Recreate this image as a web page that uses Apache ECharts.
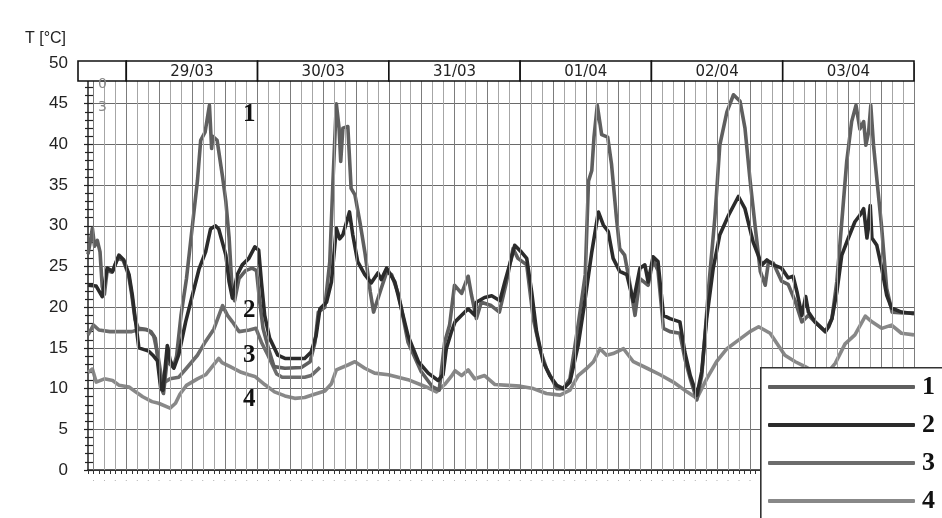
<!DOCTYPE html>
<html>
<head>
<meta http-equiv="content-type" content="text/html; charset=utf-8" />
<title>T [°C]</title>
<style>
  html, body { margin: 0; padding: 0; background: #fff; }
  #main { width: 942px; height: 518px; }
</style>
<script src="https://cdn.jsdelivr.net/npm/echarts@6.0.0/dist/echarts.min.js"></script>
</head>
<body>
<div id="main"></div>
<script>
// hours counted from 29/03 00:00
var dayStarts = [-7, 0, 24, 48, 72, 96, 120];
var dayEnds = [0, 24, 48, 72, 96, 120, 144];
var dayLabels = ['', '29/03', '30/03', '31/03', '01/04', '02/04', '03/04'];
var yTicks = [0, 5, 10, 15, 20, 25, 30, 35, 40, 45, 50];

// [hour, T]
var series1 = [[-7,26.5],[-6.6,28],[-6.2,29.7],[-5.8,27.5],[-5.3,28.2],[-4.8,26.8],[-4.4,22.5],[-4,21.6],[-3.5,24.5],[-2.6,24.3],[-1.6,26],[-0.6,25.8],[0.4,24],[1,21.5],[1.6,18.5],[2.2,17.4],[3.5,17.3],[4.5,17],[5.3,16.2],[5.9,13],[6.4,10],[6.8,9.4],[7.3,12.5],[7.6,15],[8,13],[8.6,12.6],[9.2,14],[10,19],[11,23.5],[12,29.5],[13,35.5],[13.6,40.5],[14.4,41.5],[15.2,44.8],[15.6,39.5],[15.8,41],[16.6,40.5],[17.6,36],[18.2,33],[18.8,28.5],[19.4,21.5],[19.8,20.8],[20.6,23.5],[21.8,24.5],[23,24.8],[23.8,24.5],[24.4,20.6],[25,17.4],[26,14.9],[27,12.7],[29,12.5],[32,12.6],[33.6,13.3],[34.5,15.7],[35.1,19.4],[36.3,20],[37.2,25.6],[37.8,35.8],[38.4,45],[38.9,42],[39.2,37.9],[39.6,42],[40.5,42.2],[41.1,34.6],[41.8,33.8],[42.7,30.5],[43.6,26.8],[44.6,21.9],[45.2,19.4],[46.6,22.3],[47.6,24.3],[48.5,24],[49.8,21.5],[51.5,15.7],[53.9,12.1],[56,10.2],[57.2,9.8],[58.2,15.7],[59.1,17.8],[60,22.7],[61.3,21.7],[62.5,23.8],[63.1,21.5],[64,18.6],[64.9,20.6],[66.7,20.2],[68.2,19.4],[69.5,23.1],[70.7,27.2],[71.6,26],[73.2,25.2],[74.4,18.6],[75.6,14.9],[76.8,12.5],[78.7,10],[79.9,10],[81.1,11.2],[82.6,17.8],[83.9,24],[84.5,35.5],[85.1,36.8],[85.5,40.9],[86.1,44.8],[86.9,41.2],[88,40.9],[88.7,37.6],[89.6,31],[90.2,27.2],[91.1,26.4],[92.1,22.7],[93,19],[93.9,23.5],[95.4,22.7],[96.3,25.8],[97.2,24.5],[98.2,17.4],[99.4,17],[101.2,16.8],[102.1,13.7],[103.1,11.2],[104.3,8.6],[105.2,11.6],[106.5,22.7],[107.6,31],[108.5,39.9],[109.8,44],[111,46.1],[112.2,45.3],[113.1,42],[114,35.8],[115,29.7],[115.9,24.4],[116.8,22.7],[117.4,25.6],[118.3,25.4],[119.8,23.2],[121,22.8],[122.3,20.7],[123.5,18.2],[124.7,19],[125.9,18.2],[127.8,17],[129,18.6],[129.9,23.2],[130.8,30.5],[131.7,37.9],[132.6,42.8],[133.4,44.8],[134.1,41.9],[134.8,42.8],[135.2,39.9],[135.7,41.5],[136.1,44.8],[136.6,39.9],[137.2,35.8],[138.1,29.7],[139,22.3],[140,19.4],[142,19.3],[144,19.3]];

var series2 = [[-7,22.7],[-5.5,22.6],[-4.4,21.3],[-3.5,24.8],[-2.5,24.4],[-1.35,26.4],[-0.45,25.8],[0.5,24],[1.1,21.5],[1.7,18.2],[2.3,15],[4.1,14.6],[5,14],[5.7,13.4],[6.3,10],[6.7,9.8],[7.5,15.3],[8,13.5],[8.7,12.5],[9.6,14.2],[10.85,18.2],[12.1,21.5],[13.3,24.7],[14.5,26.8],[15.4,29.6],[16.3,30],[16.9,29.6],[18.2,26.4],[18.8,23.1],[19.4,21.1],[20.3,24],[21.2,25.2],[22.4,26],[23.5,27.4],[24.2,27],[24.7,23.1],[25.3,19],[26.2,16.2],[27.7,14.1],[29,13.7],[32.6,13.7],[33.8,14.5],[34.7,16.5],[35.4,19.8],[36.6,20.6],[37.5,23.1],[38.4,29.7],[39,28.4],[39.6,28.9],[40.8,31.7],[41.4,28.9],[42.3,25.6],[43.6,24],[44.8,23],[46,24.2],[46.6,23.4],[47.6,24.8],[49.1,23.1],[50.3,19.8],[51.5,16.5],[53.4,13.3],[55.2,11.9],[57,11],[57.9,11.7],[58.5,14.9],[59.4,16.9],[60.1,18.2],[61.3,19],[62.5,19.8],[63.7,19],[64,20.6],[65.5,21.2],[66.8,21.4],[68.3,20.8],[69.2,23.1],[70.4,26],[71,27.6],[72.2,26.8],[73.2,26],[74.1,21.9],[75,17],[76.2,13.3],[77.4,11.6],[78.7,10.4],[79.9,10],[81.1,10.8],[82.6,15.3],[83.8,20.6],[85.1,26.8],[86.3,31.7],[87.2,30.1],[88.1,29.3],[89,26],[90.2,24.4],[91.5,24],[92.7,20.7],[93.9,24.8],[94.8,25.2],[95.4,23.1],[96.3,26.2],[97.2,25.6],[98.2,19],[99.4,18.6],[101.2,18.2],[102.1,14.5],[103.1,11.6],[104.3,9.2],[105.2,12.1],[106.1,18.6],[107.3,24.8],[108.5,28.9],[110.1,31.3],[111.9,33.6],[113.1,32.1],[114.6,28],[116.2,25.2],[117.1,25.8],[118.3,25.2],[119.8,24.8],[121,23.6],[121.9,23.8],[122.6,21.9],[123.5,19],[124.2,21.3],[124.7,19.4],[125.9,18.2],[127.8,17],[128.4,17.6],[129,18.6],[129.9,21.9],[130.8,26.4],[132,28.5],[133.2,30.5],[134.1,31.3],[134.8,32.1],[135.4,28.5],[136,32.5],[136.3,28.5],[137.2,27.6],[138.1,24.8],[139,21.5],[139.9,19.9],[141.7,19.4],[144,19.2]];

var series3 = [[-7,16.6],[-6,17.8],[-5,17.2],[-3,17],[-1,17],[1,17],[2.5,17.3],[4,17.2],[5,16.5],[5.8,14],[6.4,11.5],[7,10.8],[8,11.2],[9.6,11.4],[11,12.5],[13,14.1],[14.5,15.8],[16,17.3],[17.6,20.2],[18.5,19],[19.4,18.2],[20.6,17],[22.5,17.2],[23.7,17.4],[24.7,15.7],[25.9,14.1],[27.5,11.8],[28.5,11.4],[32.6,11.4],[33.8,11.6],[35.4,12.6]];

var series4 = [[-7,12],[-6.2,12.4],[-5.5,10.8],[-4,11.2],[-2.5,11],[-1.3,10.4],[0.5,10.2],[1.7,9.6],[3,9],[4.7,8.4],[5.9,8.2],[8,7.6],[9,8.2],[9.8,9.3],[11,10.4],[13,11.2],[14.5,11.7],[16.9,13.7],[17.5,13.2],[19,12.7],[21,12],[22.4,11.7],[23.5,11.5],[25.3,10.5],[27.1,9.6],[29,9.1],[30.8,8.8],[32.6,8.9],[34.4,9.3],[36.3,9.7],[37.5,10.6],[38.4,12.3],[40.5,12.9],[41.8,13.3],[43.6,12.5],[45.4,11.9],[47.9,11.7],[51.5,11.1],[55.2,10.1],[56.7,9.6],[58.2,10.5],[59.4,11.5],[60.1,12.2],[61.3,11.6],[62.5,12.3],[63.7,11.2],[65.5,11.6],[67.4,10.5],[69.8,10.4],[72,10.3],[74.4,10],[76.8,9.4],[79.3,9.2],[81.1,9.8],[82.6,11.6],[84.2,12.5],[85.4,13.3],[86.6,14.9],[87.8,14.1],[89,14.3],[90.9,14.9],[92.7,13.3],[95.2,12.5],[97.6,11.7],[100,10.8],[102.5,9.6],[104.3,8.8],[106.1,11.2],[107.9,13.3],[109.8,14.9],[111.6,15.8],[114,17],[115.6,17.6],[117.7,16.8],[119.2,15.3],[120.4,14.1],[122.3,13.3],[124.1,12.7],[126.5,11.8],[128.5,12.2],[129.6,13.1],[131.4,15.5],[133.2,16.6],[135.1,18.9],[136.3,18.2],[138.1,17.4],[139.9,17.8],[141.7,16.8],[144,16.6]];

var seriesNames = ['1', '2', '3', '4'];
var seriesColors = ['#5f5f5f', '#2b2b2b', '#6c6c6c', '#888888'];

// vertical grid every 2 hours, every 6 hours a bit darker
var gridHours = [];
for (var h = -6; h <= 144; h += 2) { gridHours.push(h); }

var myChart = echarts.init(document.getElementById('main'));

var serifBold = 'bold 25px "Liberation Serif", "DejaVu Serif", serif';

function lineSeries(idx, data, z) {
	return {
		name: seriesNames[idx],
		type: 'line',
		xAxisIndex: 0,
		yAxisIndex: 0,
		data: data,
		showSymbol: false,
		symbol: 'none',
		z: z,
		lineStyle: { color: seriesColors[idx], width: 3.6, join: 'round' },
		itemStyle: { color: seriesColors[idx] },
		animation: false
	};
}

var option = {
	animation: false,
	backgroundColor: '#fff',
	grid: [
		{ left: 88, right: 28, top: 63, bottom: 48 },
		{ left: 88, right: 28, top: 61, height: 20 }
	],
	xAxis: [{
		type: 'value',
		gridIndex: 0,
		min: -7,
		max: 144,
		interval: 1,
		axisLine: { show: true, onZero: false, lineStyle: { color: '#222', width: 1.5 } },
		axisTick: { show: true, length: 4, lineStyle: { color: '#333' } },
		axisLabel: {
			margin: 4,
			fontSize: 9,
			color: '#aaa',
			formatter: function (v) { return (v % 2 === 0) ? '.' : ''; }
		},
		splitLine: { show: false }
	}, {
		type: 'value',
		gridIndex: 1,
		min: -7,
		max: 144,
		show: false
	}],
	yAxis: [{
		type: 'value',
		gridIndex: 0,
		min: 0,
		max: 50,
		interval: 5,
		axisLine: { show: true, onZero: false, lineStyle: { color: '#222', width: 1.5 } },
		axisTick: { show: true, length: 4, lineStyle: { color: '#222', width: 1.2 } },
		minorTick: { show: true, splitNumber: 5, length: 3, lineStyle: { color: '#222', width: 1.2 } },
		axisLabel: {
			margin: 20,
			fontSize: 17,
			color: '#222',
			fontFamily: '"Liberation Sans", Arial, sans-serif',
			formatter: function (v) { return yTicks.indexOf(v) >= 0 ? String(v) : ''; }
		},
		splitLine: { show: true, lineStyle: { color: '#6a6a6a', width: 1 } }
	}, {
		// second copy for the inner half of the ticks
		type: 'value',
		gridIndex: 0,
		position: 'left',
		offset: 0,
		min: 0,
		max: 50,
		interval: 5,
		axisLine: { show: false, onZero: false },
		axisTick: { show: true, inside: true, length: 6, lineStyle: { color: '#222', width: 1.2 } },
		minorTick: { show: true, splitNumber: 5, length: 5, lineStyle: { color: '#222', width: 1.2 } },
		axisLabel: { show: false },
		splitLine: { show: false }
	}, {
		type: 'value',
		gridIndex: 1,
		min: 0,
		max: 1,
		show: false
	}],
	legend: {
		orient: 'vertical',
		left: 768,
		top: 373,
		padding: 0,
		itemWidth: 147,
		itemHeight: 4,
		itemGap: 10,
		icon: 'roundRect',
		z: 20,
		selectedMode: false,
		data: seriesNames,
		textStyle: {
			fontFamily: '"Liberation Serif", "DejaVu Serif", serif',
			fontWeight: 'bold',
			fontSize: 26,
			lineHeight: 28,
			color: '#111',
			padding: [0, 0, 0, 2]
		}
	},
	graphic: [
		{
			type: 'text', left: 25, top: 31, z: 30,
			style: { text: 'T [°C]', font: '16px "Liberation Sans", Arial, sans-serif', fill: '#222' }
		},
		{
			type: 'text', left: 98, top: 77, z: 30,
			style: { text: '0', font: '14px "DejaVu Sans", sans-serif', fill: '#8a8a8a' }
		},
		{
			type: 'text', left: 98, top: 100, z: 30,
			style: { text: '3', font: '14px "DejaVu Sans", sans-serif', fill: '#8a8a8a' }
		},
		{ type: 'text', left: 243, top: 102, z: 30, style: { text: '1', font: serifBold, fill: '#111' } },
		{ type: 'text', left: 243, top: 298, z: 30, style: { text: '2', font: serifBold, fill: '#111' } },
		{ type: 'text', left: 243, top: 343, z: 30, style: { text: '3', font: serifBold, fill: '#111' } },
		{ type: 'text', left: 243, top: 387, z: 30, style: { text: '4', font: serifBold, fill: '#111' } },
		{
			// legend box, runs off the right and bottom edge
			type: 'rect', left: 760, top: 367, z: 10,
			shape: { width: 200, height: 170 },
			style: { fill: '#fff', stroke: '#333', lineWidth: 1.6 }
		}
	],
	series: [
		{
			// vertical grid lines only
			type: 'line',
			xAxisIndex: 0,
			yAxisIndex: 0,
			data: [],
			z: 1,
			silent: true,
			markLine: {
				silent: true,
				symbol: ['none', 'none'],
				label: { show: false },
				animation: false,
				data: gridHours.map(function (g) {
					return {
						xAxis: g,
						lineStyle: { type: 'solid', width: 1, color: (g % 6 === 0) ? '#7c7c7c' : '#a6a6a6' }
					};
				})
			}
		},
		lineSeries(0, series1, 3),
		lineSeries(1, series2, 4),
		lineSeries(2, series3, 2),
		lineSeries(3, series4, 2),
		{
			// day header boxes
			type: 'custom',
			xAxisIndex: 1,
			yAxisIndex: 2,
			z: 6,
			silent: true,
			data: dayStarts.map(function (s, i) { return [s, dayEnds[i], i]; }),
			renderItem: function (params, api) {
				var p0 = api.coord([api.value(0), 1]);
				var p1 = api.coord([api.value(1), 0]);
				var x0 = p0[0];
				if (api.value(2) === 0) { x0 -= 10; }
				return {
					type: 'group',
					children: [{
						type: 'rect',
						shape: { x: x0, y: p0[1], width: p1[0] - x0, height: p1[1] - p0[1] },
						style: { fill: '#fff', stroke: '#111', lineWidth: 1.6 }
					}, {
						type: 'text',
						style: {
							text: dayLabels[api.value(2)],
							x: (x0 + p1[0]) / 2,
							y: (p0[1] + p1[1]) / 2 + 1,
							align: 'center',
							verticalAlign: 'middle',
							font: '15px "DejaVu Sans", sans-serif',
							fill: '#222'
						}
					}]
				};
			}
		}
	]
};

myChart.setOption(option);
</script>
</body>
</html>
